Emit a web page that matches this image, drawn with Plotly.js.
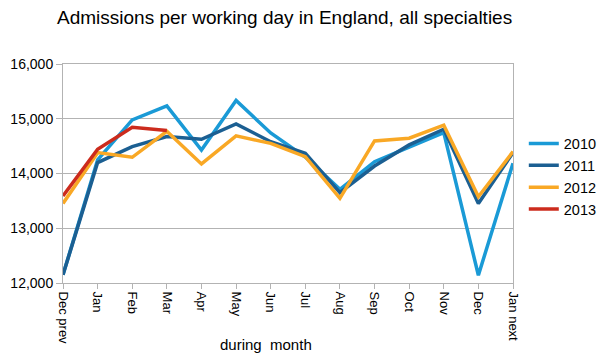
<!DOCTYPE html>
<html><head><meta charset="utf-8">
<script src="https://cdn.plot.ly/plotly-3.0.1.min.js"></script>
<style>body{margin:0;background:#fff}#c{width:604px;height:360px}</style>
</head><body><div id="c"></div>
<script>
var months = ["Dec prev","Jan","Feb","Mar","Apr","May","Jun","Jul","Aug","Sep","Oct","Nov","Dec","Jan next"];
var y2010 = [12150,14250,14980,15236,14430,15334,14740,14300,13710,14216,14480,14747,12141,14187];
var y2011 = [12150,14200,14491,14674,14626,14907,14580,14370,13650,14137,14522,14809,13454,14380];
var y2012 = [13454,14381,14296,14770,14174,14687,14550,14308,13546,14595,14644,14882,13575,14400];
var y2013 = [13588,14443,14846,14784];
var years = ["2010","2011","2012","2013"];
var colors = ["#1a9ad6","#1b5f92","#f9a825","#cc2b1d"];
var series = [y2010,y2011,y2012,y2013];
var traces = series.map(function(s,i){
  return {x: months.slice(0,s.length), y: s, name: years[i], type:"scatter", mode:"lines",
    line:{color:colors[i], width:3.5}};
});
var layout = {
  width:604, height:360,
  margin:{l:63,r:91,t:64,b:77,autoexpand:false},
  paper_bgcolor:"#fff", plot_bgcolor:"#fff",
  font:{family:"Liberation Sans, Arial, sans-serif", color:"#000", size:13},
  title:{text:"Admissions per working day in England, all specialties", font:{size:19}, x:57/604, xanchor:"left", y:0.952, yanchor:"middle"},
  xaxis:{type:"category", range:[0,13], tickangle:90, ticks:"outside", ticklen:5, tickcolor:"#b3b3b3",
    showgrid:false, showline:true, linecolor:"#b3b3b3", mirror:true, tickfont:{size:13}, automargin:false},
  yaxis:{range:[12000,16000], dtick:1000, tickformat:",d", showgrid:true, gridcolor:"#b3b3b3",
    showline:true, linecolor:"#b3b3b3", mirror:true, ticks:"outside", ticklen:6, tickcolor:"#b3b3b3",
    zeroline:false, tickfont:{size:14}, automargin:false},
  annotations:[{text:"during\u00a0\u00a0month", xref:"paper", yref:"paper", x:0.451, y:-0.283,
    xanchor:"center", yanchor:"middle", showarrow:false, font:{size:15}}],
  legend:{x:1.024, xanchor:"left", y:0.486, yanchor:"middle", font:{size:14.5}, tracegroupgap:0, bgcolor:"rgba(0,0,0,0)"},
  showlegend:true
};
Plotly.newPlot("c", traces, layout, {staticPlot:true});
</script></body></html>
